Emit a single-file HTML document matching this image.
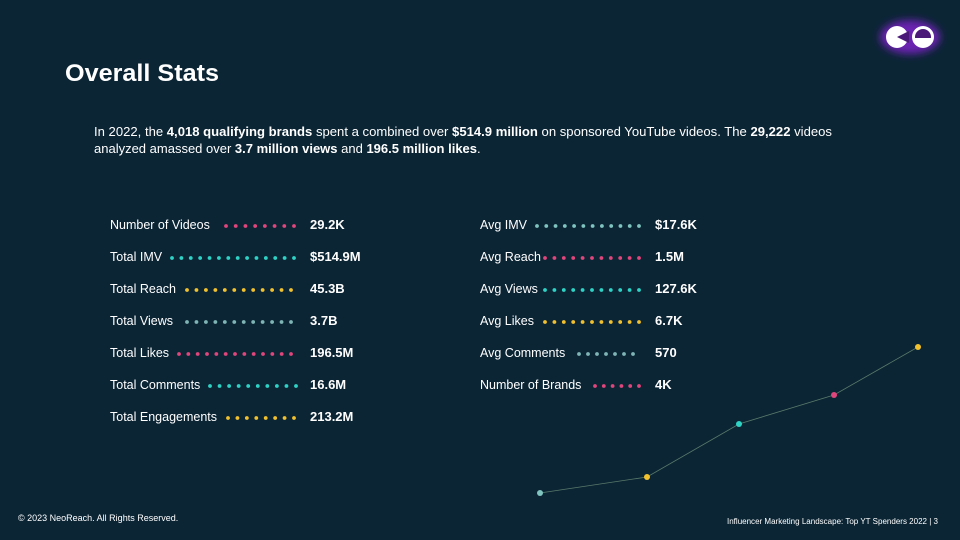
<!DOCTYPE html>
<html><head><meta charset="utf-8"><style>
html,body{margin:0;padding:0;background:#0b2535;}
svg{display:block}
text{font-family:"Liberation Sans",sans-serif;}
</style></head><body>
<svg width="960" height="540" viewBox="0 0 960 540" xmlns="http://www.w3.org/2000/svg">
<defs><filter id="gl" x="-50%" y="-50%" width="200%" height="200%"><feGaussianBlur stdDeviation="4"/></filter></defs>
<rect width="960" height="540" fill="#0b2535"/>
<ellipse cx="910" cy="37" rx="30" ry="17" fill="#6a22b0" filter="url(#gl)"/>
<circle cx="897" cy="37" r="11" fill="#ffffff"/>
<path d="M897 37 L909 31 L909 43 Z" fill="#4b1a78"/>
<circle cx="923" cy="37" r="11" fill="#ffffff"/>
<circle cx="923" cy="37" r="8" fill="#4b1a78"/>
<path d="M915 38 A8 8 0 0 0 931 38 Z" fill="#ffffff"/>
<text x="65" y="81" font-size="24" font-weight="bold" fill="#fff" textLength="154" lengthAdjust="spacingAndGlyphs">Overall Stats</text>
<text x="94" y="136" font-size="13" fill="#fff" textLength="738" lengthAdjust="spacingAndGlyphs">In 2022, the <tspan font-weight="bold">4,018 qualifying brands</tspan> spent a combined over <tspan font-weight="bold">$514.9 million</tspan> on sponsored YouTube videos. The <tspan font-weight="bold">29,222</tspan> videos</text>
<text x="94" y="153" font-size="13" fill="#fff">analyzed amassed over <tspan font-weight="bold">3.7 million views</tspan> and <tspan font-weight="bold">196.5 million likes</tspan>.</text>
<g font-size="12.5" fill="#fff">
<text x="110" y="229">Number of Videos</text>
<text x="110" y="261">Total IMV</text>
<text x="110" y="293">Total Reach</text>
<text x="110" y="325">Total Views</text>
<text x="110" y="357">Total Likes</text>
<text x="110" y="389">Total Comments</text>
<text x="110" y="421">Total Engagements</text>
<text x="480" y="229">Avg IMV</text>
<text x="480" y="261">Avg Reach</text>
<text x="480" y="293">Avg Views</text>
<text x="480" y="325">Avg Likes</text>
<text x="480" y="357">Avg Comments</text>
<text x="480" y="389">Number of Brands</text>
</g>
<g font-size="13" font-weight="bold" fill="#fff">
<text x="310" y="229">29.2K</text>
<text x="310" y="261">$514.9M</text>
<text x="310" y="293">45.3B</text>
<text x="310" y="325">3.7B</text>
<text x="310" y="357">196.5M</text>
<text x="310" y="389">16.6M</text>
<text x="310" y="421">213.2M</text>
<text x="655" y="229">$17.6K</text>
<text x="655" y="261">1.5M</text>
<text x="655" y="293">127.6K</text>
<text x="655" y="325">6.7K</text>
<text x="655" y="357">570</text>
<text x="655" y="389">4K</text>
</g>
<g id="dots"></g>
<polyline points="540,493 647,477 739,424 834,395 918,347" fill="none" stroke="#5a7a6a" stroke-width="0.8"/>
<circle cx="540" cy="493" r="3" fill="#7fc4bf"/>
<circle cx="647" cy="477" r="3" fill="#f2c12e"/>
<circle cx="739" cy="424" r="3" fill="#2ed3c6"/>
<circle cx="834" cy="395" r="3" fill="#e0457b"/>
<circle cx="918" cy="347" r="3" fill="#f2c12e"/>
<text x="18" y="521" font-size="9" fill="#fff">© 2023 NeoReach. All Rights Reserved.</text>
<text x="727" y="524" font-size="8" fill="#fff" textLength="211" lengthAdjust="spacingAndGlyphs">Influencer Marketing Landscape:  Top YT Spenders 2022 |  3</text>
</svg>
<script>
var rows=[[226,294,8,226,'#e0457b'],[172,294,14,258,'#2ed3c6'],[187,291,12,290,'#f2c12e'],[187,291,12,322,'#7fb5b5'],[179,291,13,354,'#e0457b'],[210,296,10,386,'#2ed3c6'],[228,294,8,418,'#f2c12e'],
[537,639,12,226,'#7fc4bf'],[545,639,11,258,'#e0457b'],[545,639,11,290,'#2ed3c6'],[545,639,11,322,'#f2c12e'],[579,633,7,354,'#7fb5b5'],[595,639,6,386,'#e0457b']];
var g=document.getElementById('dots'),s='';
rows.forEach(function(r){for(var i=0;i<r[2];i++){var x=r[0]+(r[1]-r[0])*i/(r[2]-1);s+='<circle cx="'+x+'" cy="'+r[3]+'" r="1.9" fill="'+r[4]+'"/>';}});
g.innerHTML=s;
</script>
</body></html>
